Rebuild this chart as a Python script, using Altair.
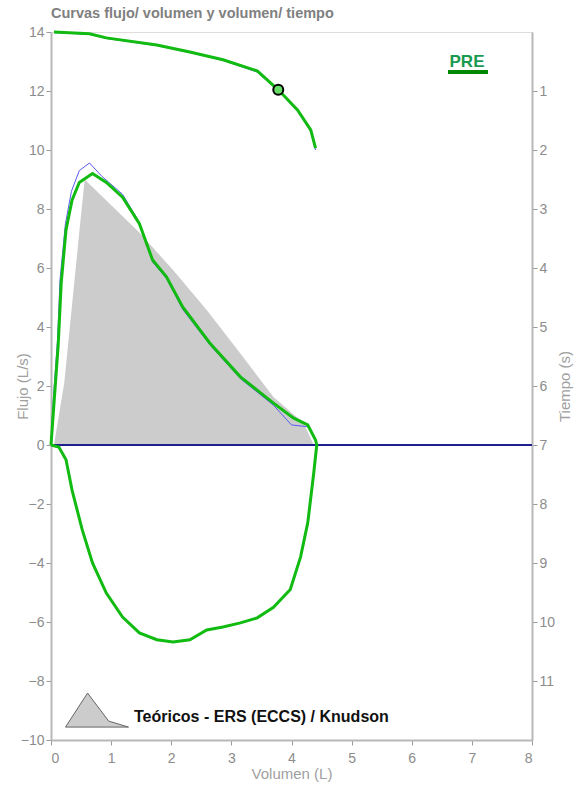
import altair as alt
import pandas as pd

# ---- data ----
exp_vol = [0, 0.05, 0.12, 0.17, 0.25, 0.35, 0.47, 0.69, 0.92, 1.19, 1.47, 1.69, 1.92, 2.19, 2.64, 3.15, 3.70, 4.03, 4.27, 4.40, 4.42]
exp_flow = [0, 1.42, 3.4, 5.5, 7.3, 8.3, 8.9, 9.2, 8.9, 8.4, 7.5, 6.27, 5.7, 4.68, 3.46, 2.31, 1.42, 0.92, 0.68, 0.17, 0]

insp_vol = [4.42, 4.37, 4.27, 4.15, 3.98, 3.70, 3.43, 3.15, 2.86, 2.59, 2.31, 2.03, 1.76, 1.47, 1.19, 0.92, 0.69, 0.52, 0.35, 0.25, 0.13, 0]
insp_flow = [0, -0.95, -2.64, -3.8, -4.9, -5.5, -5.86, -6.03, -6.17, -6.27, -6.6, -6.68, -6.6, -6.37, -5.83, -5.02, -4.0, -2.88, -1.53, -0.5, -0.07, 0]

blue_vol = [0, 0.04, 0.11, 0.15, 0.24, 0.34, 0.47, 0.64, 0.85, 1.19, 1.47, 1.69, 1.92, 2.19, 2.64, 3.15, 3.70, 4.00, 4.27, 4.38, 4.42]
blue_flow = [0, 1.6, 3.6, 5.6, 7.5, 8.6, 9.3, 9.56, 9.1, 8.5, 7.55, 6.2, 5.65, 4.6, 3.4, 2.25, 1.35, 0.68, 0.62, 0.3, 0]

th_vol = [0.05, 0.22, 0.47, 0.56, 1.47, 2.03, 2.59, 3.15, 3.70, 4.20, 4.37]
th_flow = [0, 2.1, 7.2, 9.0, 7.2, 5.93, 4.58, 3.1, 1.63, 0.75, 0]

vt_vol = [0.05, 0.64, 0.92, 1.76, 2.31, 2.86, 3.43, 3.78, 4.10, 4.32, 4.40]
vt_time = [0, 0.03, 0.10, 0.22, 0.34, 0.47, 0.66, 0.98, 1.32, 1.66, 1.97]
vt_blue_time = [0.01, 0.04, 0.11, 0.23, 0.35, 0.48, 0.68, 1.0, 1.34, 1.69, 2.0]

fev1_vol = [3.78]
fev1_time = [0.98]

theor_label = "Teóricos - ERS (ECCS) / Knudson"
pre_label = "PRE"
title_text = "Curvas flujo/ volumen y volumen/ tiempo"

x_ticks = [0, 1, 2, 3, 4, 5, 6, 7, 8]
flow_ticks = [-10, -8, -6, -4, -2, 0, 2, 4, 6, 8, 10, 12, 14]
time_ticks = [1, 2, 3, 4, 5, 6, 7, 8, 9, 10, 11]

# ---- tables ----
loop_vol = exp_vol + insp_vol[1:]
loop_flow = exp_flow + insp_flow[1:]
green_df = pd.DataFrame({"vol": loop_vol, "flujo": loop_flow, "i": range(len(loop_vol))})
blue_df = pd.DataFrame({"vol": blue_vol, "flujo": blue_flow, "i": range(len(blue_vol))})
th_df = pd.DataFrame({"vol": th_vol, "flujo": th_flow, "serie": theor_label})
vt_df = pd.DataFrame({"vol": vt_vol, "t": vt_time, "i": range(len(vt_vol))})
vtb_df = pd.DataFrame({"vol": vt_vol, "t": vt_blue_time, "i": range(len(vt_vol))})
fev_df = pd.DataFrame({"vol": fev1_vol, "t": fev1_time})
zero_df = pd.DataFrame({"flujo": [0]})
pre_df = pd.DataFrame({"lab": [pre_label]})

FONT = "Liberation Sans"
GRAY = "#8c8c8c"
TGRAY = "#a0a0a0"

common_axis = dict(labelColor=GRAY, labelFont=FONT, titleFont=FONT, titleColor=TGRAY,
                   titleFontWeight="normal", grid=False, domainColor="#b8b8b8",
                   domainWidth=2, tickColor="#999", tickSize=5)

x_enc = alt.X("vol:Q", scale=alt.Scale(domain=[0, 8], nice=False),
              axis=alt.Axis(values=x_ticks, title="Volumen (L)", labelFontSize=14,
                            labelPadding=6, titleFontSize=15, titlePadding=1, **common_axis))
y_flow = alt.Y("flujo:Q", scale=alt.Scale(domain=[-10, 14], nice=False),
               axis=alt.Axis(values=flow_ticks, title="Flujo (L/s)", labelFontSize=14,
                             titleFontSize=15, titleX=-21, titleAngle=270,
                             titleBaseline="bottom", **common_axis))
y_time = alt.Y("t:Q", scale=alt.Scale(domain=[0, 12], reverse=True, nice=False),
               axis=alt.Axis(orient="right", values=time_ticks, title="Tiempo (s)",
                             labelFontSize=14, titleFontSize=15, titleX=40, titleAngle=270,
                             titleBaseline="bottom", **common_axis))

legend_path = "M-1,0.32 L-0.30,-0.76 L0.37,0.13 L1,0.32 Z"

area = alt.Chart(th_df).mark_area(opacity=1).encode(
    x=x_enc, y=y_flow,
    fill=alt.Fill("serie:N", scale=alt.Scale(domain=[theor_label], range=["#cccccc"]),
                  legend=alt.Legend(orient="none", legendX=14, legendY=653, title=None,
                                    symbolType=legend_path, symbolSize=3969,
                                    symbolStrokeColor="#666", symbolStrokeWidth=1,
                                    labelFont=FONT, labelFontSize=16, labelFontWeight="bold",
                                    labelColor="#111", labelOffset=5, padding=0,
                                    labelLimit=400)),
)
zero = alt.Chart(zero_df).mark_rule(color="#1f1f8f", strokeWidth=2).encode(y=y_flow)
blue = alt.Chart(blue_df).mark_line(color="#5a5aee", strokeWidth=1).encode(
    x=x_enc, y=y_flow, order="i:Q")
green = alt.Chart(green_df).mark_line(color="#11bb11", strokeWidth=3).encode(
    x=x_enc, y=y_flow, order="i:Q")
pre_text = alt.Chart(pre_df).mark_text(font=FONT, fontSize=17, fontWeight="bold",
                                       color="#1a9950", align="center", baseline="alphabetic").encode(
    text="lab:N", x=alt.value(416), y=alt.value(35))
pre_line = alt.Chart(pre_df).mark_rule(color="#008800", strokeWidth=4).encode(
    x=alt.value(397), x2=alt.value(437), y=alt.value(40))

flow_layer = alt.layer(area, zero, blue, green, pre_text, pre_line)

vt_blue = alt.Chart(vtb_df).mark_line(color="#5a5aee", strokeWidth=1).encode(
    x=x_enc, y=y_time, order="i:Q")
vt_green = alt.Chart(vt_df).mark_line(color="#11bb11", strokeWidth=3).encode(
    x=x_enc, y=y_time, order="i:Q")
fev = alt.Chart(fev_df).mark_point(shape="circle", filled=True, fill="#66dd66",
                                   stroke="#000", strokeWidth=2, size=100, opacity=1).encode(
    x=x_enc, y=y_time)
time_layer = alt.layer(vt_blue, vt_green, fev)

chart = alt.layer(flow_layer, time_layer).resolve_scale(y="independent").properties(
    width=481, height=708,
    autosize="none",
    padding={"left": 51, "top": 32, "right": 50, "bottom": 46},
    title=alt.TitleParams(title_text, anchor="start", frame="group", fontSize=14.5,
                          fontWeight="bold", color="#808080", font=FONT, offset=4),
).configure_view(stroke="#c4c4c4", strokeWidth=1).configure(background="white")

chart.save("out.html", embed_options={"renderer": "svg", "actions": False})
